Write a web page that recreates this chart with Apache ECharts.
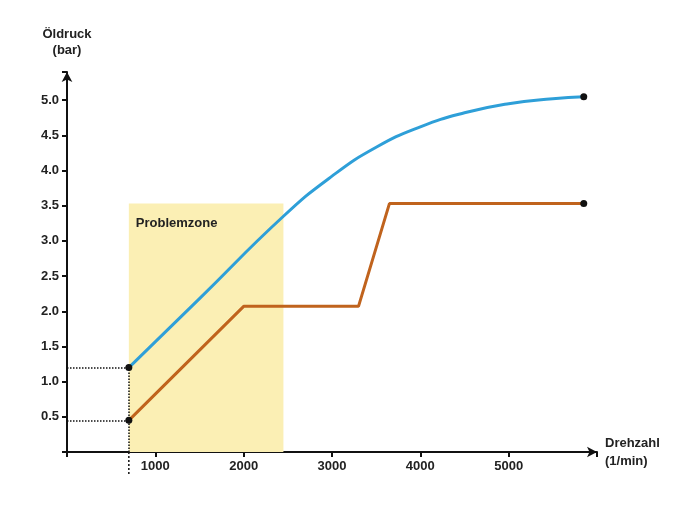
<!DOCTYPE html>
<html><head><meta charset="utf-8">
<script src="https://cdn.jsdelivr.net/npm/echarts@6/dist/echarts.min.js"></script>
<style>html,body{margin:0;background:#fff}#c{width:700px;height:516px}</style>
</head><body><div id="c"></div>
<script>
const xTicks=[1000,2000,3000,4000,5000];
const yTicks=[0.5,1.0,1.5,2.0,2.5,3.0,3.5,4.0,4.5,5.0];
const afterUpdate=[[700,1.2],[1500,2.18],[2450,3.35],[3000,3.92],[3500,4.33],[4000,4.62],[4500,4.82],[5000,4.95],[5500,5.02],[5850,5.05]];
const beforeUpdate=[[700,0.45],[2000,2.07],[3300,2.07],[3650,3.53],[5850,3.53]];
const idle=700, zoneEnd=2450, zoneTop=3.53;
const F='"Liberation Sans Narrow","Liberation Sans",Arial,sans-serif';
const txt={fontFamily:F,fontWeight:'bold',color:'#222',fontSize:13};
const ch=echarts.init(document.getElementById('c'));
ch.setOption({
 animation:false,
 grid:{left:67,right:103,top:72,bottom:64},
 xAxis:{type:'value',min:0,max:6000,interval:1000,
  axisLine:{lineStyle:{color:'#111',width:2},symbol:['none','arrow'],symbolSize:[8,10]},
  axisTick:{show:true,length:5,lineStyle:{color:'#111',width:2}},
  axisLabel:Object.assign({},txt,{formatter:v=>xTicks.includes(v)?v:''}),
  splitLine:{show:false},
  name:'Drehzahl\n(1/min)',nameLocation:'end',nameGap:8,
  nameTextStyle:Object.assign({},txt,{align:'left',lineHeight:18,padding:[30,0,0,0]})},
 yAxis:{type:'value',min:0,max:5.4,interval:0.5,
  axisLine:{show:true,lineStyle:{color:'#111',width:2},symbol:['none','arrow'],symbolSize:[8,10]},
  axisTick:{show:true,length:5,lineStyle:{color:'#111',width:2}},
  axisLabel:Object.assign({},txt,{formatter:v=>yTicks.some(t=>Math.abs(t-v)<1e-6)?v.toFixed(1):''}),
  splitLine:{show:false},
  name:'Öldruck\n(bar)',nameGap:14,nameTextStyle:Object.assign({},txt,{align:'center',lineHeight:16})},
 series:[
  {type:'line',data:afterUpdate,smooth:0.5,symbol:'none',lineStyle:{color:'#2e9fd8',width:3},z:3,
   markArea:{silent:true,itemStyle:{color:'#fbefb4'},
     label:Object.assign({},txt,{position:'insideTopLeft',offset:[2,8]}),
     data:[[{name:'Problemzone',coord:[idle,0]},{coord:[zoneEnd,zoneTop]}]]},
   markLine:{silent:true,symbol:'none',lineStyle:{color:'#111',type:'dotted',width:1.5},label:{show:false},
     data:[[{coord:[0,1.2]},{coord:[idle,1.2]}],[{coord:[0,0.45]},{coord:[idle,0.45]}],[{coord:[idle,0]},{coord:[idle,1.2]}]]}},
  {type:'line',data:beforeUpdate,symbol:'none',lineStyle:{color:'#c0631d',width:3},z:3},
  {type:'scatter',symbolSize:7,itemStyle:{color:'#111',opacity:1},z:5,
   data:[[idle,1.2],[idle,0.45],[5850,5.05],[5850,3.53]]},
  {type:'scatter',symbolSize:1,itemStyle:{opacity:0},z:6,
   data:[
    {value:[3100,4.95],label:Object.assign({},txt,{show:true,formatter:'nach dem Update',color:'#1f97d4',position:'inside'})},
    {value:[5300,3.0],label:Object.assign({},txt,{show:true,formatter:'vor dem Update',color:'#b85a15',position:'inside'})},
    {value:[5850,5.05],label:Object.assign({},txt,{show:true,formatter:'max',position:'right',distance:8,offset:[0,-2]})},
    {value:[idle,0],label:Object.assign({},txt,{show:true,formatter:'Leerlauf',position:'bottom',distance:28})}
   ]}
 ]
});
const p0=ch.convertToPixel({gridIndex:0},[idle,0]);
ch.setOption({graphic:[{type:'line',shape:{x1:p0[0],y1:p0[1],x2:p0[0],y2:p0[1]+22},style:{stroke:'#111',lineWidth:1.5,lineDash:[2,2]}}]});
</script></body></html>
